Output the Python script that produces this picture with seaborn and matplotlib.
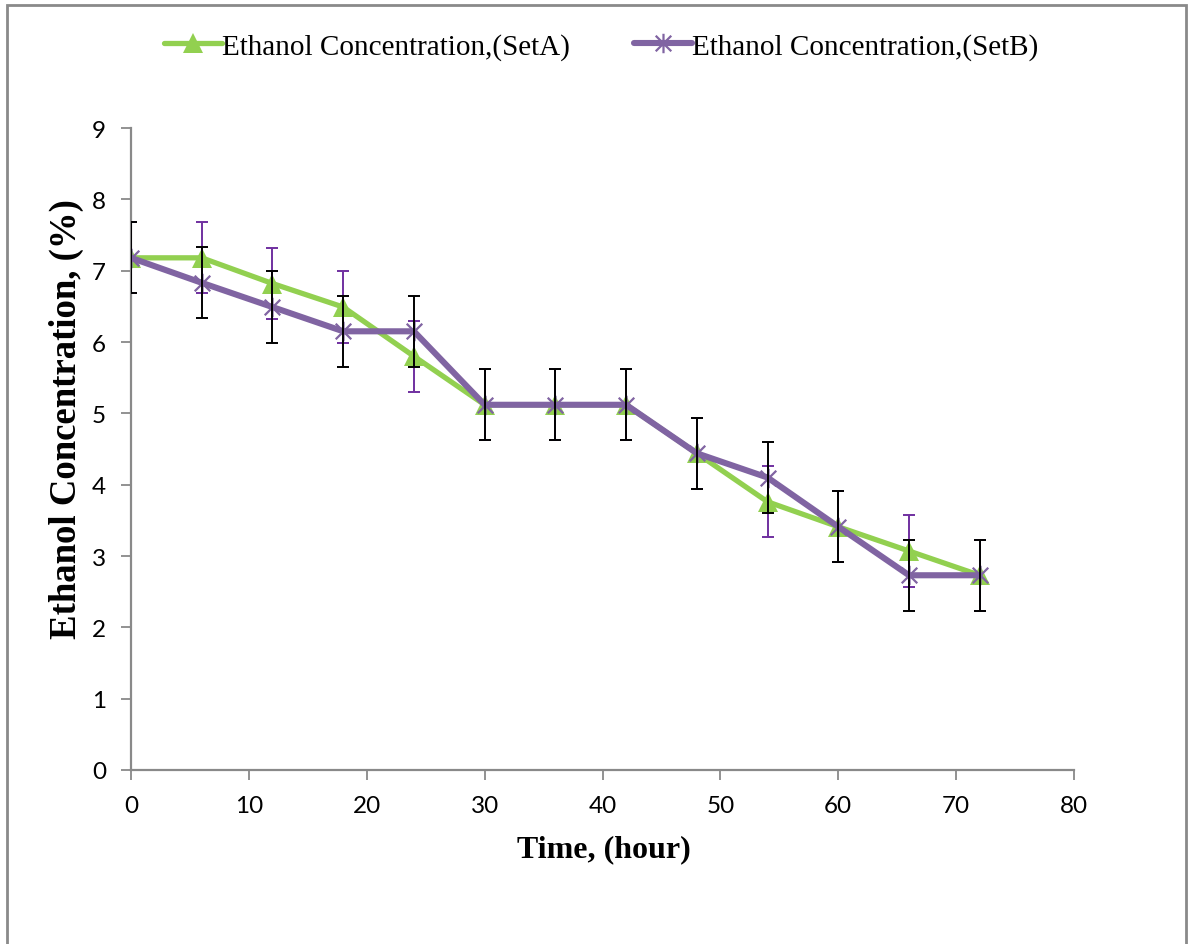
import matplotlib
matplotlib.use("Agg")
import matplotlib.pyplot as plt
from matplotlib.path import Path
from matplotlib.patches import Rectangle
import pandas as pd
import seaborn as sns

# Sampling times and measured ethanol concentration for both fermentation sets
time_h = [0, 6, 12, 18, 24, 30, 36, 42, 48, 54, 60, 66, 72]
set_a = [7.18, 7.18, 6.82, 6.49, 5.80, 5.12, 5.12, 5.12, 4.44, 3.76, 3.41, 3.07, 2.73]
set_b = [7.18, 6.83, 6.49, 6.15, 6.15, 5.12, 5.12, 5.12, 4.44, 4.10, 3.41, 2.73, 2.73]
err_a = [0.5, 0.5, 0.5, 0.5, 0.5, 0.5, 0.5, 0.5, 0.5, 0.5, 0.5, 0.5, 0.5]
err_b = [0.5, 0.5, 0.5, 0.5, 0.5, 0.5, 0.5, 0.5, 0.5, 0.5, 0.5, 0.5, 0.5]
label_a = "Ethanol Concentration,(SetA)"
label_b = "Ethanol Concentration,(SetB)"
x_ticks = [0, 10, 20, 30, 40, 50, 60, 70, 80]
y_ticks = [0, 1, 2, 3, 4, 5, 6, 7, 8, 9]

df = pd.DataFrame({"time": time_h, "a": set_a, "b": set_b})

sns.set_theme(style="ticks")
plt.rcParams["font.family"] = ["Lato", "DejaVu Sans"]
plt.rcParams["text.color"] = "black"
plt.rcParams["axes.labelcolor"] = "black"

GREEN = "#92D050"
PURPLE = "#8064A2"
ERR_PURPLE = "#7030A0"
AXIS_GREY = "#898989"

# asterisk-style marker: an X crossed by a vertical stroke
star = Path(
    [(-1, -1), (1, 1), (-1, 1), (1, -1), (0, -1.25), (0, 1.25)],
    [Path.MOVETO, Path.LINETO, Path.MOVETO, Path.LINETO, Path.MOVETO, Path.LINETO],
)

fig = plt.figure(figsize=(11.88, 9.45), dpi=100)
ax = fig.add_axes([131 / 1188, 1 - 771 / 945, (1074 - 131) / 1188, (771 - 129) / 945])

sns.lineplot(data=df, x="time", y="a", ax=ax, color=GREEN, linewidth=3.8,
             marker="^", markersize=15, markeredgewidth=0, label=label_a, zorder=3)
sns.lineplot(data=df, x="time", y="b", ax=ax, color=PURPLE, linewidth=4.4,
             marker=star, markersize=14, markeredgewidth=1.6,
             markeredgecolor=PURPLE, label=label_b, zorder=4)

ax.errorbar(time_h, set_a, yerr=err_a, fmt="none", ecolor=ERR_PURPLE,
            elinewidth=1.4, capsize=4.5, capthick=1.4, zorder=5)
ax.errorbar(time_h, set_b, yerr=err_b, fmt="none", ecolor="black",
            elinewidth=1.4, capsize=4.5, capthick=1.4, zorder=6)

ax.set_xlim(0, 80)
ax.set_ylim(0, 9)
ax.set_xticks(x_ticks)
ax.set_yticks(y_ticks)
ax.tick_params(axis="both", direction="out", length=7, width=1.3,
               color=AXIS_GREY, labelsize=17.5, labelcolor="black")
ax.tick_params(axis="x", pad=11)
ax.tick_params(axis="y", pad=11)
for side in ("top", "right"):
    ax.spines[side].set_visible(False)
for side in ("left", "bottom"):
    ax.spines[side].set_color(AXIS_GREY)
    ax.spines[side].set_linewidth(1.6)

ax.set_xlabel("Time, (hour)", family="Liberation Serif", fontweight="bold",
              fontsize=23, va="top", color="black")
ax.set_ylabel("Ethanol Concentration, (%)", family="Liberation Serif",
              fontweight="bold", fontsize=26.5, color="black")
ax.xaxis.set_label_coords(0.5016, -0.100)
ax.yaxis.set_label_coords(-0.050, 0.548)

ax.get_legend().remove()
handles, labels = ax.get_legend_handles_labels()
leg = fig.legend(handles, labels, loc="center", bbox_to_anchor=(0.506, 0.950), ncol=2,
                 frameon=False, prop={"family": "Liberation Serif", "size": 21},
                 handlelength=2.0, handletextpad=0.0, columnspacing=2.2)
for t in leg.get_texts():
    t.set_color("black")

# outer chart border
fig.patches.append(Rectangle((7 / 1188, -0.02), (1186 - 7) / 1188, 1.02 - 6 / 945,
                             transform=fig.transFigure, fill=False,
                             edgecolor="#8a8a8a", linewidth=2.0))

fig.savefig("out.png", dpi=100)
